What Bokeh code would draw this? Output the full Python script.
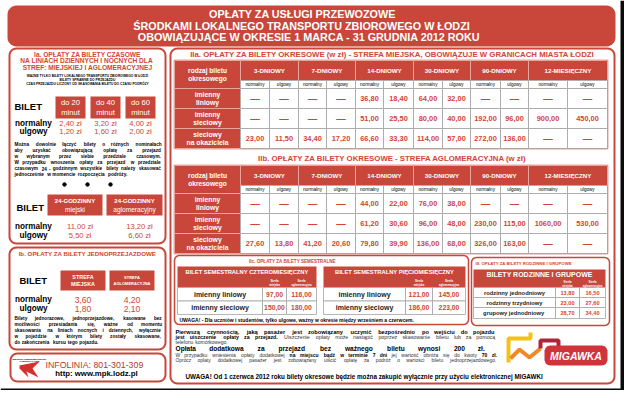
import math
from bokeh.plotting import figure
from bokeh.models import Range1d
from bokeh.embed import file_html
from bokeh.resources import INLINE
from bokeh.core.properties import value

# ---------------- data ----------------
title_lines = ["OPŁATY ZA USŁUGI PRZEWOZOWE",
               "ŚRODKAMI LOKALNEGO TRANSPORTU ZBIOROWEGO W ŁODZI",
               "OBOWIĄZUJĄCE W OKRESIE  1 MARCA - 31 GRUDNIA 2012 ROKU"]

ia_title = ["Ia. OPŁATY ZA BILETY CZASOWE", "NA LINIACH  DZIENNYCH I NOCNYCH DLA", "STREF: MIEJSKIEJ I AGLOMERACYJNEJ"]
ia_small = ["WAŻNE TYLKO BILETY LOKALNEGO TRANSPORTU ZBIOROWEGO W ŁODZI",
            "BILETY SPRAWNE DO PRZEJAZDU",
            "CZAS PRZEJAZDU LICZONY OD SKASOWANIA BILETU DO CZASU PODRÓŻY"]
time_labels = [["do 20", "minut"], ["do 40", "minut"], ["do 60", "minut"]]
time_normal = ["2,40 zł", "3,20 zł", "4,00 zł"]
time_reduced = ["1,20 zł", "1,60 zł", "2,00 zł"]
ia_note = ["Można dowolnie łączyć bilety o różnych nominałach",
           "aby uzyskać obowiązującą opłatę za przejazd",
           "w wybranym przez siebie przedziale czasowym.",
           "W przypadku wnoszenia opłaty za przejazd w przedziale",
           "czasowym 24 - godzinnym wszystkie bilety należy skasować",
           "jednocześnie w momencie rozpoczęcia podróży."]
day_labels = [["24-GODZINNY", "miejski"], ["24-GODZINNY", "aglomeracyjny"]]
day_normal = ["11,00 zł", "13,20 zł"]
day_reduced = ["5,50 zł", "6,60 zł"]

ib_title = "Ib. OPŁATY ZA BILETY JEDNOPRZEJAZDOWE"
single_labels = [["STREFA", "MIEJSKA"], ["STREFA", "AGLOMERACYJNA"]]
single_normal = ["3,60", "4,20"]
single_reduced = ["1,80", "2,10"]
ib_note = ["Bilety jednorazowe, jednoprzejazdowe, kasowane bez",
           "możliwości przesiadania się, ważne od momentu",
           "skasowania na liniach nocnych i dziennych, wyłącznie",
           "w pojeździe w którym bilety zostały skasowane,",
           "do zakończenia kursu tego pojazdu."]
fare_kinds = ["normalny", "ulgowy"]

periods = ["3-DNIOWY", "7-DNIOWY", "14-DNIOWY", "30-DNIOWY", "90-DNIOWY", "12-MIESIĘCZNY"]
row_labels = [["imienny", "liniowy"], ["imienny", "sieciowy"], ["sieciowy", "na okaziciela"]]
D = "—"
city_linear = [D, D, D, D, "36,80", "18,40", "64,00", "32,00", D, D, D, D]
city_network = [D, D, D, D, "51,00", "25,50", "80,00", "40,00", "192,00", "96,00", "900,00", "450,00"]
city_bearer = ["23,00", "11,50", "34,40", "17,20", "66,60", "33,30", "114,00", "57,00", "272,00", "136,00", D, D]
agglo_linear = [D, D, D, D, "44,00", "22,00", "76,00", "38,00", D, D, D, D]
agglo_network = [D, D, D, D, "61,20", "30,60", "96,00", "48,00", "230,00", "115,00", "1060,00", "530,00"]
agglo_bearer = ["27,60", "13,80", "41,20", "20,60", "79,80", "39,90", "136,00", "68,00", "326,00", "163,00", D, D]
iia_title = "IIa. OPŁATY ZA BILETY OKRESOWE (w zł) - STREFA MIEJSKA, OBOWIĄZUJE W GRANICACH MIASTA ŁODZI"
iib_title = "IIb. OPŁATY ZA BILETY OKRESOWE - STREFA AGLOMERACYJNA (w zł)"

iic_title = "IIc. OPŁATY ZA BILETY SEMESTRALNE"
sem_titles = ["BILET SEMESTRALNY CZTEROMIESIĘCZNY", "BILET SEMESTRALNY PIĘCIOMIESIĘCZNY"]
sem_rows = ["imienny liniowy", "imienny sieciowy"]
sem4_city = ["97,00", "150,00"]
sem4_agglo = ["116,00", "180,00"]
sem5_city = ["121,00", "186,00"]
sem5_agglo = ["145,00", "223,00"]
zone_heads = [["Strefa", "miejska"], ["Strefa", "aglomeracyjna"]]
sem_note = "UWAGA! - Dla uczniów i studentów, tylko ulgowe, ważny w okresie między wrześniem a czerwcem."

iii_title = "III. OPŁATY ZA BILETY RODZINNE I GRUPOWE"
iii_bar = "BILETY RODZINNE I GRUPOWE"
family_rows = ["rodzinny jednodniowy", "rodzinny trzydniowy", "grupowy  jednodniowy"]
family_city = ["13,80", "23,00", "28,70"]
family_agglo = ["16,50", "27,60", "34,40"]

rules_lines = [
    [("Pierwszą czynnością, jaką pasażer jest zobowiązany uczynić bezpośrednio po wejściu do pojazdu", True)],
    [("jest uiszczenie opłaty za przejazd.", True),
     ("Uiszczenie opłaty może nastąpić poprzez skasowanie biletu lub za pomocą", False)],
    [("telefonu komórkowego.", False)],
    [("Opłata dodatkowa za przejazd bez ważnego biletu wynosi 200 zł.", True)],
    [("W przypadku wniesienia opłaty dodatkowej", False), ("na miejscu bądź w terminie 7 dni", True),
     ("jej wartość obniża się do kwoty", False), ("70 zł.", True)],
    [("Oprócz opłaty dodatkowej pasażer jest zobowiązany uiścić opłatę za podróż o wartości biletu jednoprzejazdowego.", False)],
]

final_note = "UWAGA! Od 1 czerwca 2012 roku bilety okresowe będzie można zakupić wyłącznie przy użyciu elektronicznej  MIGAWKI"

# ---------------- styles ----------------
RED = "#c8473a"
TRED = "#d24535"
PINK = "#e9a59b"
GRAY = "#a3a3a3"
FONT = "Liberation Sans"

p = figure(width=624, height=390, x_range=Range1d(8, 632), y_range=Range1d(398, 8),
           output_backend="svg", toolbar_location=None, min_border=0,
           x_axis_type=None, y_axis_type=None)
p.grid.visible = False
p.outline_line_color = None
p.background_fill_color = "white"
p.border_fill_color = "#0b0b0b"

texts = {}


def T(x, y, s, size=7.0, color="black", bold=True, align="center", italic=False):
    key = (size, color, bold, align, italic)
    d = texts.setdefault(key, {"x": [], "y": [], "t": []})
    d["x"].append(x)
    d["y"].append(y)
    d["t"].append(s)


def cw(ch, bold):
    if ch in "ijlI.,;:'!|ł": return 0.28
    if ch in "ft": return 0.33 if bold else 0.29
    if ch == "r": return 0.39 if bold else 0.33
    if ch == "m": return 0.89 if bold else 0.83
    if ch in "MW": return 0.88
    if ch == "w": return 0.78 if bold else 0.72
    if ch == " ": return 0.278
    if ch == "-": return 0.333
    if ch.isdigit(): return 0.556
    if ch.isupper(): return 0.72 if bold else 0.67
    return 0.61 if bold else 0.556


def width(s, size, bold):
    return sum(cw(c, bold) for c in s) * size


def run(x0, x1, y, segs, size, justify=True, color_b="black", color_n="#333333"):
    words = []
    for s, b in segs:
        for w in s.split():
            words.append((w, b))
    ws = [width(w, size, b) for w, b in words]
    if justify and len(words) > 1:
        gap = max((x1 - x0 - sum(ws)) / (len(words) - 1), 0.2 * size)
    else:
        gap = 0.3 * size
    x = x0
    for (w, b), wd in zip(words, ws):
        T(x, y, w, size, color_b if b else color_n, b, "left")
        x += wd + gap


def J(x0, x1, y, line, size, bold=True, justify=True):
    run(x0, x1, y, [(line, bold)], size, justify)


def rr(x0, y0, x1, y1, r, n=7):
    xs, ys = [], []
    for cx, cy, a0 in [(x1 - r, y0 + r, -90), (x1 - r, y1 - r, 0), (x0 + r, y1 - r, 90), (x0 + r, y0 + r, 180)]:
        for k in range(n + 1):
            a = math.radians(a0 + 90 * k / n)
            xs.append(cx + r * math.cos(a))
            ys.append(cy + r * math.sin(a))
    return xs, ys


def rbox(x0, y0, x1, y1, r, fill=None, line=None, lw=1.5):
    xs, ys = rr(x0, y0, x1, y1, r)
    p.patch(xs, ys, fill_color=fill, fill_alpha=1 if fill else 0,
            line_color=line, line_width=lw, line_alpha=1 if line else 0)


def cells(ls, rs, ts, bs, fill, line, lw=0.8):
    p.quad(left=ls, right=rs, top=ts, bottom=bs, fill_color=fill, line_color=line, line_width=lw)


# black frame remainder
cells([628, 8], [632, 632], [8, 396], [398, 398], "#0b0b0b", None)

# ---------------- banner ----------------
rbox(15, 13, 623, 54, 9, fill=RED)
for yy, s, cx in zip([21.5, 33, 44.5], title_lines, [310, 309, 318]):
    T(cx, yy, s, 10.8, "white", True)

# ---------------- left column ----------------
rbox(17, 56, 173, 251, 7, line=RED, lw=2)
rbox(17, 255, 173, 357, 7, line=RED, lw=2)
rbox(18, 361, 173, 389, 7, line=RED, lw=2)

for yy, s in zip([61.5, 68, 74.5], ia_title):
    T(95, yy, s, 6.6, TRED, True)
for yy, s in zip([83, 87, 91], ia_small):
    T(95, yy, s, 3.3, "black", True)

T(22, 114, "BILET", 9.5, "black", True, "left")
bx = [78, 113, 148]
cells([c - 15 for c in bx], [c + 15 for c in bx], [104] * 3, [126] * 3, RED, None)
for c, (a, b) in zip(bx, time_labels):
    T(c, 110, a, 7.6, "white", False)
    T(c, 119.5, b, 7.6, "white", False)
T(41, 130.5, fare_kinds[0], 8.2, "black", True)
T(41, 138.5, fare_kinds[1], 8.2, "black", True)
for c, a, b in zip(bx, time_normal, time_reduced):
    T(c, 130.5, a, 7.6, TRED, False)
    T(c, 138.5, b, 7.6, TRED, False)
for i, line in enumerate(ia_note):
    J(22, 170, 152 + 6 * i, line, 4.7, justify=(i < len(ia_note) - 1))

p.scatter([72, 95, 118], [192, 192, 192], size=3.5, color="black")

T(24, 215, "BILET", 9.5, "black", True, "left")
dx = [(55, 110), (114, 170)]
cells([a for a, b in dx], [b for a, b in dx], [202, 202], [223, 223], RED, None)
for (a, b), (l1, l2) in zip(dx, day_labels):
    T((a + b) / 2, 208, l1, 6.0, "white", True)
    T((a + b) / 2, 217, l2, 6.6, "white", False)
T(41, 234, fare_kinds[0], 8.2, "black", True)
T(41, 243, fare_kinds[1], 8.2, "black", True)
for (a, b), v1, v2 in zip(dx, day_normal, day_reduced):
    T((a + b) / 2 + 5, 234, v1, 7.6, TRED, False)
    T((a + b) / 2 + 5, 243, v2, 7.6, TRED, False)

T(95, 261, ib_title, 6.2, TRED, True)
T(27, 288, "BILET", 9.5, "black", True, "left")
sx = [(68, 113), (117, 162)]
cells([a for a, b in sx], [b for a, b in sx], [278, 278], [298, 298], RED, None)
T(90.5, 284.5, single_labels[0][0], 5.4, "white", True)
T(90.5, 291.5, single_labels[0][1], 5.4, "white", True)
T(139.5, 284.5, single_labels[1][0], 4.0, "white", True)
T(139.5, 291, single_labels[1][1], 4.0, "white", True)
T(41, 307, fare_kinds[0], 8.2, "black", True)
T(41, 316, fare_kinds[1], 8.2, "black", True)
for (a, b), v1, v2 in zip(sx, single_normal, single_reduced):
    T((a + b) / 2, 307, v1, 8.6, TRED, False)
    T((a + b) / 2, 316, v2, 8.6, TRED, False)
for i, line in enumerate(ib_note):
    J(22, 170, 326 + 6 * i, line, 4.7, justify=(i < len(ib_note) - 1))

# info box + logo
p.patch([27, 47, 40, 46, 34, 36, 27], [373, 369, 376, 385, 379, 385, 376], fill_color="#d3312d", line_color=None)
T(37, 366.5, "MIEJSKIE PRZEDSIĘBIORSTWO", 2.2, "black", True)
T(37, 369, "KOMUNIKACYJNE", 2.2, "black", True)
T(53, 372, "INFOLINIA:  801-301-309", 8.8, "#b5382c", False, "left")
T(104, 381, "http: www.mpk.lodz.pl", 7.8, "black", True)

# ---------------- right column ----------------
rbox(178, 56, 622, 391, 7, line=RED, lw=2)

xe = [182, 248, 277, 306, 334, 363, 391, 421, 450, 478, 508, 536, 575, 615]


def big_table(y0, title, ty, rows):
    T(400, ty, title, 7.8, TRED, True)
    ye = [y0, y0 + 20, y0 + 28, y0 + 48, y0 + 68, y0 + 88]
    cells([xe[0]], [xe[-1]], [ye[0]], [ye[-1]], RED, RED, 1.5)
    cells([xe[0]] * 4, [xe[1]] * 4, [ye[0], ye[2], ye[3], ye[4]], [ye[2], ye[3], ye[4], ye[5]], RED, PINK, 1)
    cells([xe[1 + 2 * g] for g in range(6)], [xe[3 + 2 * g] for g in range(6)],
          [ye[0]] * 6, [ye[1]] * 6, RED, PINK, 1)
    L, R, Tp, B = [], [], [], []
    for r in range(4):
        for c in range(12):
            L.append(xe[1 + c]); R.append(xe[2 + c]); Tp.append(ye[1 + r]); B.append(ye[2 + r])
    cells(L, R, Tp, B, "white", GRAY, 0.8)
    T((xe[0] + xe[1]) / 2, (ye[0] + ye[2]) / 2 - 3.6, "rodzaj biletu", 6.6, "white", True)
    T((xe[0] + xe[1]) / 2, (ye[0] + ye[2]) / 2 + 3.6, "okresowego", 6.6, "white", True)
    for g, name in enumerate(periods):
        T((xe[1 + 2 * g] + xe[3 + 2 * g]) / 2, (ye[0] + ye[1]) / 2, name, 6.2, "white", True)
    for c in range(12):
        T((xe[1 + c] + xe[2 + c]) / 2, (ye[1] + ye[2]) / 2, fare_kinds[c % 2], 4.6, "black", False)
    for r, vals in enumerate(rows):
        cy = (ye[2 + r] + ye[3 + r]) / 2
        T((xe[0] + xe[1]) / 2, cy - 3.6, row_labels[r][0], 6.8, "white", True)
        T((xe[0] + xe[1]) / 2, cy + 3.6, row_labels[r][1], 6.8, "white", True)
        for c, v in enumerate(vals):
            cx = (xe[1 + c] + xe[2 + c]) / 2
            if v == D:
                T(cx, cy, v, 9.5, TRED, True)
            else:
                T(cx, cy, v, 7.4, TRED, True)


big_table(68, iia_title, 61.5, [city_linear, city_network, city_bearer])
big_table(173, iib_title, 166, [agglo_linear, agglo_network, agglo_bearer])

# IIc semester box
rbox(182, 263, 476, 332, 5, line=RED, lw=1.5)
T(300, 268.5, iic_title, 4.6, TRED, True)


def sem_table(x0, xl, xm, x1, title, vc, va):
    cells([x0], [x1], [274], [295], RED, None)
    T((x0 + x1) / 2, 279.5, title, 5.8, "white", True)
    for (a, b), (l1, l2) in zip([(xl, xm), (xm, x1)], zone_heads):
        T((a + b) / 2, 288.5, l1, 2.9, "white", True)
        T((a + b) / 2, 292, l2, 2.9, "white", True)
    ys = [295, 308.5, 322]
    cells([x0, xl, xm, x0, xl, xm], [xl, xm, x1, xl, xm, x1],
          [ys[0]] * 3 + [ys[1]] * 3, [ys[1]] * 3 + [ys[2]] * 3, "white", GRAY, 0.8)
    for r in range(2):
        cy = (ys[r] + ys[r + 1]) / 2
        T((x0 + xl) / 2, cy, sem_rows[r], 7.0, "#222222", True)
        T((xl + xm) / 2, cy, vc[r], 6.8, TRED, True)
        T((xm + x1) / 2, cy, va[r], 6.8, TRED, True)


sem_table(185, 270, 294, 324, sem_titles[0], sem4_city, sem4_agglo)
sem_table(331, 413, 440, 473, sem_titles[1], sem5_city, sem5_agglo)
T(187, 327.5, sem_note, 5.0, "black", True, "left")

# III family box
rbox(479, 265, 617, 333, 5, line=RED, lw=1.5)
T(483, 271, iii_title, 4.3, TRED, True, "left")
cells([481], [613], [277], [295], RED, None)
T(547, 282, iii_bar, 7.0, "white", True)
fx = [481, 563, 587, 613]
for (a, b), (l1, l2) in zip([(fx[1], fx[2]), (fx[2], fx[3])], zone_heads):
    T((a + b) / 2, 289.5, l1, 2.8, "white", True)
    T((a + b) / 2, 292.8, l2, 2.8, "white", True)
fy = [295, 305, 315, 326]
L, R, Tp, B = [], [], [], []
for r in range(3):
    for c in range(3):
        L.append(fx[c]); R.append(fx[c + 1]); Tp.append(fy[r]); B.append(fy[r + 1])
cells(L, R, Tp, B, "white", GRAY, 0.8)
for r in range(3):
    cy = (fy[r] + fy[r + 1]) / 2
    T(522, cy, family_rows[r], 5.8, "#222222", True)
    T((fx[1] + fx[2]) / 2, cy, family_city[r], 5.6, TRED, True)
    T((fx[2] + fx[3]) / 2, cy, family_agglo[r], 5.6, TRED, True)

# rules paragraph
rule_y = [339, 344.5, 349.5, 356, 362, 368]
rule_x1 = [503, 503, 250, 493, 505, 505]
rule_size = [5.7, 5.3, 5.0, 6.6, 5.0, 4.9]
rule_just = [True, True, False, True, True, True]
for segs, yy, x1, sz, jj in zip(rules_lines, rule_y, rule_x1, rule_size, rule_just):
    run(183, x1, yy, segs, sz, jj)
T(193, 384, final_note, 6.3, "black", True, "left")

# MIGAWKA logo
p.line([516, 516, 538, 538], [370, 346, 346, 340], line_color="#f2c21b", line_width=4)
p.line([518, 527, 537, 548], [366, 357, 365, 356], line_color="#ef8a25", line_width=4)
p.line([548, 548, 566, 566], [356, 348, 348, 354], line_color="#b0243a", line_width=4)
rbox(552, 353, 615, 373, 6, fill="#d0333a")
T(583.5, 363, "MIGAWKA", 10.5, "white", True, italic=True)

# ---------------- render texts ----------------
for (size, color, bold, align, italic), d in texts.items():
    style = "bold italic" if bold and italic else "bold" if bold else "italic" if italic else "normal"
    p.text(x=d["x"], y=d["y"], text=d["t"], text_font=value(FONT), text_font_size=f"{size}px",
           text_color=color, text_font_style=style, text_align=align, text_baseline="middle")

html = file_html(p, INLINE)
html = html.replace("<body>", '<body style="background-color:#0b0b0b;">', 1)
open("out.html", "w").write(html)
